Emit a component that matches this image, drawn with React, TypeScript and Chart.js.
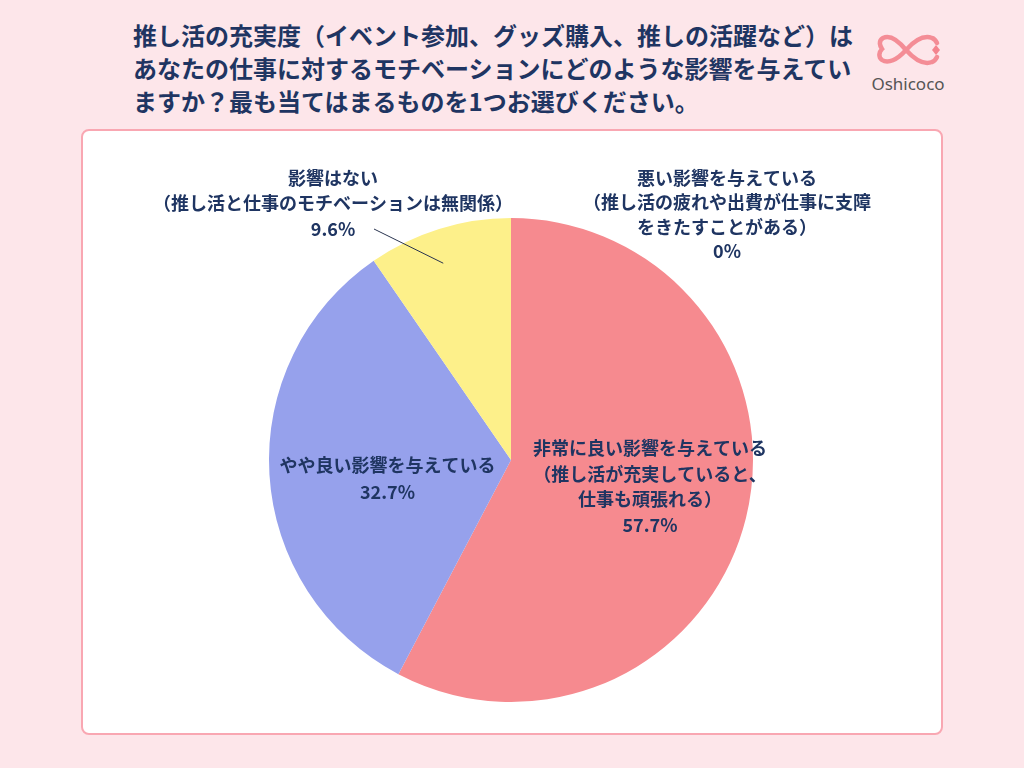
import React, { useEffect, useRef } from "react";
import { Chart, registerables } from "chart.js";

Chart.register(...registerables);

const titleLines = [
  "推し活の充実度（イベント参加、グッズ購入、推しの活躍など）は",
  "あなたの仕事に対するモチベーションにどのような影響を与えてい",
  "ますか？最も当てはまるものを1つお選びください。",
];

const categories = [
  "非常に良い影響を与えている（推し活が充実していると、仕事も頑張れる）",
  "やや良い影響を与えている",
  "影響はない（推し活と仕事のモチベーションは無関係）",
  "悪い影響を与えている（推し活の疲れや出費が仕事に支障をきたすことがある）",
];
const categoryLines = [
  ["非常に良い影響を与えている", "（推し活が充実していると、", "仕事も頑張れる）"],
  ["やや良い影響を与えている"],
  ["影響はない", "（推し活と仕事のモチベーションは無関係）"],
  ["悪い影響を与えている", "（推し活の疲れや出費が仕事に支障", "をきたすことがある）"],
];
const values = [57.7, 32.7, 9.6, 0];
const colors = ["#f68a8f", "#96a1ec", "#fdf08a", "#e0e0e0"];

const TEXT = "#1f3562";
const FONT = "'Noto Sans CJK JP', 'Noto Sans', sans-serif";

// label layout (canvas coords): anchor x, first line y, line gap
const labelLayout = [
  { x: 567, y: 317, gap: 25.8 },
  { x: 304.5, y: 334, gap: 27 },
  { x: 250, y: 47, gap: 25.5 },
  { x: 644, y: 47, gap: 24.5 },
];

const labelPlugin = {
  id: "sliceLabels",
  afterDatasetsDraw(chart: any) {
    const ctx = chart.ctx;
    ctx.save();
    ctx.fillStyle = TEXT;
    ctx.font = `700 18px ${FONT}`;
    ctx.textAlign = "center";
    ctx.textBaseline = "middle";
    const data = chart.data.datasets[0].data as number[];
    data.forEach((v, i) => {
      const lay = labelLayout[i];
      const lines = [...categoryLines[i], `${v}%`];
      lines.forEach((ln, j) => {
        ctx.fillText(ln, lay.x, lay.y + j * lay.gap);
      });
    });
    // leader line for small slice
    const arc = chart.getDatasetMeta(0).data[2];
    if (arc) {
      const a = (arc.startAngle + arc.endAngle) / 2 - 0.03;
      const r = arc.outerRadius * 0.86;
      const ex = arc.x + Math.cos(a) * r;
      const ey = arc.y + Math.sin(a) * r;
      ctx.strokeStyle = "#2a3550";
      ctx.lineWidth = 1;
      ctx.beginPath();
      ctx.moveTo(291, 98);
      ctx.lineTo(ex, ey);
      ctx.stroke();
    }
    ctx.restore();
  },
};

export default function App() {
  const ref = useRef<HTMLCanvasElement>(null);
  useEffect(() => {
    document.body.style.margin = "0";
    const chart = new Chart(ref.current as HTMLCanvasElement, {
      type: "pie",
      data: {
        labels: categories,
        datasets: [
          {
            data: values,
            backgroundColor: colors,
            borderWidth: 0,
          },
        ],
      },
      options: {
        responsive: false,
        animation: false,
        layout: { padding: { left: 186, right: 188, top: 87, bottom: 31 } },
        plugins: {
          legend: { display: false },
          tooltip: { enabled: false },
          title: { display: false },
        },
      },
      plugins: [labelPlugin],
    });
    return () => chart.destroy();
  }, []);

  return (
    <div
      style={{
        position: "fixed",
        left: 0,
        top: 0,
        width: 1024,
        height: 768,
        background: "#fde6ea",
        overflow: "hidden",
      }}
    >
      <div
        style={{
          position: "absolute",
          left: 133,
          top: 18,
          fontFamily: FONT,
          fontWeight: 700,
          fontSize: 24,
          lineHeight: "33px",
          color: TEXT,
          whiteSpace: "nowrap",
        }}
      >
        {titleLines.map((t, i) => (
          <div key={i}>{t}</div>
        ))}
      </div>
      <svg
        width={1024}
        height={768}
        style={{ position: "absolute", left: 0, top: 0 }}
      >
        <g fill="none" stroke="#f4848e" strokeWidth={4.5} strokeLinecap="round" opacity={0.9}>
          <path d="M906,50 C897,39 889,35 883,38 C878,41 880,46 882,49 C879,52 878,57 882,60 C888,64 897,60 906,50 C915,40 924,35 932,38 C935,39 936,41 937,43" />
          <path d="M906,50 C915,60 924,65 932,62 C935,61 936,59 937,57" />
        </g>
        <path d="M936,45 L940,50 L936,55 L932,50 Z" fill="#f4848e" />
        <text
          x={908}
          y={90}
          textAnchor="middle"
          fontFamily="'Noto Sans', sans-serif"
          fontSize={17}
          fill="#555"
        >
          Oshicoco
        </text>
      </svg>
      <div
        style={{
          position: "absolute",
          left: 81,
          top: 129,
          width: 858,
          height: 602,
          background: "#fff",
          border: "2px solid #f9a7b2",
          borderRadius: 8,
        }}
      >
        <canvas ref={ref} width={858} height={602} style={{ display: "block" }} />
      </div>
    </div>
  );
}
